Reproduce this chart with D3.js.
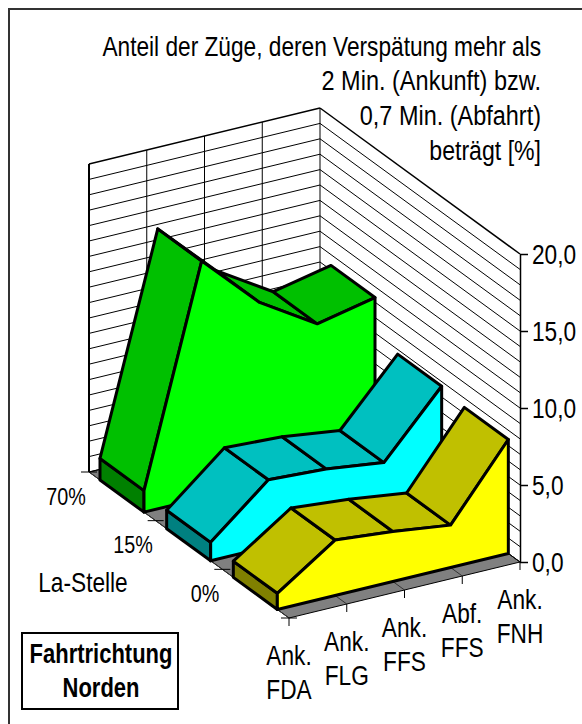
<!DOCTYPE html>
<html>
<head>
<meta charset="utf-8">
<script src="https://cdn.jsdelivr.net/npm/d3@7"></script>
<style>
  body { margin: 0; background: #fff; }
  text { font-family: "Liberation Sans", sans-serif; fill: #000; }
</style>
</head>
<body>
<svg id="vis" width="582" height="724"></svg>
<script>
// values
var categories = [["Ank.", "FDA"], ["Ank.", "FLG"], ["Ank.", "FFS"], ["Abf.", "FFS"], ["Ank.", "FNH"]];
var depthLabels = ["70%", "15%", "0%"];
var valueTicks = [0, 5, 10, 15, 20];
var gridValues = [0, 1, 2, 3, 4, 5, 6, 7, 8, 9, 10, 11, 12, 13, 14, 15, 16, 17, 18, 19, 20];
var green = [1.4, 15.4, 11.8, 9.5, 10.3];
var cyan = [1.2, 4.35, 4.15, 3.65, 7.7];
var yellow = [1.05, 3.6, 3.25, 2.75, 7.4];
var titleLines = ["Anteil der Züge, deren Verspätung mehr als", "2 Min. (Ankunft) bzw.", "0,7 Min. (Abfahrt)", "beträgt [%]"];

var seriesList = [
    { values: green, top: "#00c000", front: "#00ff00", side: "#008000" },
    { values: cyan, top: "#00c0c0", front: "#00ffff", side: "#008080" },
    { values: yellow, top: "#c0c000", front: "#ffff00", side: "#808000" }
];

var vis = d3.select("#vis");

// no narrow font installed, so squeeze the text horizontally
var narrow = 0.81;
var titleNarrow = [0.81, 0.84, 0.838, 0.825];

// oblique projection: category runs up to the right, depth runs down to the right
var catX = d3.scaleLinear().domain([0, 4]).range([0, 231]);
var catY = d3.scaleLinear().domain([0, 4]).range([0, -56]);
var depthX = d3.scaleLinear().domain([0, 3]).range([0, 200]);
var depthY = d3.scaleLinear().domain([0, 3]).range([0, 146]);
var valueY = d3.scaleLinear().domain([0, 20]).range([0, -308]);

function project(c, d, v) {
    return [89 + catX(c) + depthX(d), 472 + catY(c) + depthY(d) + valueY(v)];
}

var line = d3.line();
function poly(pts, fill, stroke, width) {
    vis.append("path")
        .attr("d", line(pts) + "Z")
        .attr("fill", fill)
        .attr("stroke", stroke)
        .attr("stroke-width", width)
        .attr("stroke-linejoin", "round");
}
function seg(a, b, width, color) {
    vis.append("line")
        .attr("x1", a[0]).attr("y1", a[1])
        .attr("x2", b[0]).attr("y2", b[1])
        .attr("stroke", color || "#000")
        .attr("stroke-width", width);
}
function label(x, y, t, size, anchor, scale) {
    return vis.append("text")
        .attr("transform", "translate(" + x + "," + y + ") scale(" + (scale || narrow) + ",1)")
        .attr("text-anchor", anchor || "middle")
        .attr("font-size", size)
        .text(t);
}

// frame, only the top and left edges show
vis.append("path").attr("d", "M9,724V9H582")
    .attr("fill", "none").attr("stroke", "#333").attr("stroke-width", 2);

// floor
poly([project(0, 0, 0), project(4, 0, 0), project(4, 3, 0), project(0, 3, 0)], "#808080", "#000", 1);
categories.forEach(function(c, i) {
    seg(project(i, 0, 0), project(i, 3, 0), 1, "#333");
});

// walls
gridValues.forEach(function(v) {
    seg(project(0, 0, v), project(4, 0, v), v == 20 ? 1.5 : 1);
    seg(project(4, 0, v), project(4, 3, v), v == 20 ? 1.5 : 1);
});
[0, 1, 2, 3, 4].forEach(function(i) {
    seg(project(i, 0, 0), project(i, 0, 20), i == 0 ? 2 : 1);
});

// depth ticks
[0, 1, 2, 3].forEach(function(d) {
    var p = project(0, d, 0);
    seg([p[0] - 8, p[1]], [p[0] + 8, p[1]], 1);
});

// series, back to front
seriesList.forEach(function(s, k) {
    var back = k + 0.165, front = k + 0.825;
    var bv = s.values;
    poly([project(0, front, 0), project(0, front, bv[0]), project(0, back, bv[0]), project(0, back, 0)], s.side, "#000", 3);
    for (var i = 0; i < 4; i++) {
        poly([project(i, back, bv[i]), project(i + 1, back, bv[i + 1]), project(i + 1, front, bv[i + 1]), project(i, front, bv[i])], s.top, "#000", 3);
    }
    var frontPts = bv.map(function(v, i) { return project(i, front, v); });
    for (var j = 4; j >= 0; j--) frontPts.push(project(j, front, 0));
    poly(frontPts, s.front, "#000", 3);
});

// value axis
var yAxisScale = d3.scaleLinear().domain([0, 20]).range([project(4, 3, 0)[1], project(4, 3, 20)[1]]);
var yAxis = vis.append("g")
    .attr("transform", "translate(" + project(4, 3, 0)[0] + ",0)")
    .call(d3.axisRight(yAxisScale).tickValues(valueTicks).tickSize(8).tickSizeOuter(0)
        .tickFormat(function(d) { return d.toFixed(1).replace(".", ","); }));
yAxis.select(".domain").attr("stroke", "#000").attr("stroke-width", 1.5);
yAxis.selectAll(".tick line").attr("stroke", "#000").attr("stroke-width", 1.5);
yAxis.selectAll(".tick text")
    .attr("x", null).attr("dy", null)
    .attr("transform", "translate(12,9) scale(" + narrow + ",1)")
    .attr("font-size", 28)
    .style("font-family", '"Liberation Sans", sans-serif')
    .attr("fill", "#000");

// depth labels
var depthLabelPos = [[66, 505], [133, 553], [205, 602]];
depthLabels.forEach(function(l, i) {
    label(depthLabelPos[i][0], depthLabelPos[i][1], l, 23, "middle", 0.86);
});

// category ticks and labels
categories.forEach(function(c, i) {
    var p = project(i, 3, 0);
    seg(p, [p[0], p[1] + 8], 1);
    c.forEach(function(t, n) {
        label(p[0], p[1] + 47 + n * 34, t, 28);
    });
});

// title
titleLines.forEach(function(t, i) {
    label(541, 55.5 + i * 34.7, t, 28, "end", titleNarrow[i]);
});

label(83, 592, "La-Stelle", 28);

// direction box
vis.append("rect").attr("x", 22).attr("y", 633).attr("width", 156).attr("height", 76)
    .attr("fill", "#fff").attr("stroke", "#000").attr("stroke-width", 2);
["Fahrtrichtung", "Norden"].forEach(function(t, i) {
    label(101, 663 + i * 34, t, 28, "middle", 0.785).attr("font-weight", "bold");
});
</script>
</body>
</html>
